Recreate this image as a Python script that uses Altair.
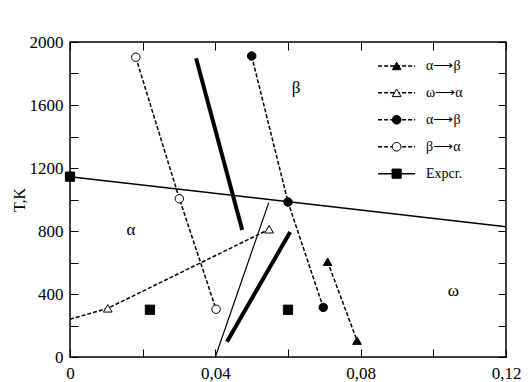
import altair as alt
import pandas as pd

# ---------------- data ----------------
# alpha -> beta (filled triangles)
ab_tri_x = [0.0709, 0.0790]
ab_tri_y = [605, 104]
# omega -> alpha (open triangles); dashed line starts on the T axis
wa_x = [0.0104, 0.0548]
wa_y = [309, 811]
wa_line_x = [0.0, 0.0104, 0.0548]
wa_line_y = [240, 309, 811]
# alpha -> beta (filled circles)
ab_circ_x = [0.050, 0.060, 0.0697]
ab_circ_y = [1911, 984, 315]
# beta -> alpha (open circles)
ba_x = [0.0181, 0.0301, 0.0402]
ba_y = [1903, 1005, 303]
# experiment (squares) and solid line
exp_x = [0.0, 0.022, 0.060]
exp_y = [1145, 300, 300]
exp_line_x = [0.0, 0.12]
exp_line_y = [1145, 827]
# thick solid segments
thick1_x = [0.0347, 0.0474]
thick1_y = [1897, 806]
thick2_x = [0.0432, 0.0606]
thick2_y = [97, 794]
# thin solid segment
thin_x = [0.040, 0.0547]
thin_y = [0, 980]
# phase-region labels
region_labels = ["α", "β", "ω"]
region_x = [0.0168, 0.0622, 0.1055]
region_y = [806, 1706, 419]
# legend labels
legend_labels = ["α⟶β", "ω⟶α", "α⟶β", "β⟶α", "Expcr."]
# axis ticks
x_ticks = [0.0, 0.02, 0.04, 0.06, 0.08, 0.10, 0.12]
y_ticks = list(range(0, 2001, 200))

# ---------------- styling / layout ----------------
FONT = "Liberation Serif"
xs = alt.Scale(domain=[0, 0.12], nice=False, zero=False)
ys = alt.Scale(domain=[0, 2000], nice=False, zero=False)

common_axis = dict(domain=False, grid=False, tickSize=8, offset=-8, tickColor="black",
                   tickWidth=1, labelFont=FONT, labelFontSize=17, labelColor="black",
                   labelFlush=False, labelOverlap=False)

x_bottom = alt.Axis(orient="bottom", values=x_ticks, title=None, labelPadding=8,
                    labelExpr="round(datum.value*100) % 4 == 0 ? replace(format(datum.value, '.2~f'), '.', ',') : ''",
                    **common_axis)
y_left = alt.Axis(orient="left", values=y_ticks, format="d", title="T,K", labelPadding=7,
                  labelExpr="datum.value % 400 == 0 ? datum.label : ''",
                  titleFont=FONT, titleFontSize=16, titleFontWeight="normal", titleColor="black",
                  titlePadding=2, **common_axis)
x_top = alt.Axis(orient="top", values=x_ticks, title=None, labels=False, domain=False, grid=False,
                 tickSize=8, offset=-8, tickColor="black", tickWidth=1)
y_right = alt.Axis(orient="right", values=y_ticks, title=None, labels=False, domain=False, grid=False,
                   tickSize=8, offset=-8, tickColor="black", tickWidth=1)

DASH = [4, 2]
DASH_W = 1.5
LEG_X0, LEG_X1, LEG_XM, LEG_XT = 0.0848, 0.0950, 0.0899, 0.0980
LEG_TOP, LEG_STEP = 1848, 171


def df(x, y):
    return pd.DataFrame({"x": x, "y": y})


def enc(chart, xaxis=None, yaxis=None):
    return chart.encode(
        x=alt.X("x:Q", scale=xs, axis=xaxis),
        y=alt.Y("y:Q", scale=ys, axis=yaxis),
    )


def line(x, y, width, dash=None):
    kw = dict(color="black", strokeWidth=width, clip=False)
    if dash:
        kw["strokeDash"] = dash
    return enc(alt.Chart(df(x, y)).mark_line(**kw))


def markers(x, y, shape, filled, size):
    fill = "black" if filled else "white"
    return enc(alt.Chart(df(x, y)).mark_point(shape=shape, filled=True, fill=fill,
                                               stroke="black", strokeWidth=1, size=size,
                                               opacity=1))


layers = []
# experimental solid line carries the left / bottom axes
layers.append(enc(alt.Chart(df(exp_line_x, exp_line_y)).mark_line(color="black", strokeWidth=1.5),
                  xaxis=x_bottom, yaxis=y_left))
# thick segments carry the top / right tick axes
layers.append(enc(alt.Chart(df(thick1_x, thick1_y)).mark_line(color="black", strokeWidth=4),
                  xaxis=x_top, yaxis=y_right))
layers.append(line(thick2_x, thick2_y, 4))
layers.append(line(thin_x, thin_y, 1.2))

# dashed series
layers.append(line(ab_tri_x, ab_tri_y, DASH_W, DASH))
layers.append(line(wa_line_x, wa_line_y, DASH_W, DASH))
layers.append(line(ab_circ_x, ab_circ_y, DASH_W, DASH))
layers.append(line(ba_x, ba_y, DASH_W, DASH))

# markers
layers.append(markers(ab_tri_x, ab_tri_y, "triangle-up", True, 75))
layers.append(markers(wa_x, wa_y, "triangle-up", False, 75))
layers.append(markers(ab_circ_x, ab_circ_y, "circle", True, 72))
layers.append(markers(ba_x, ba_y, "circle", False, 72))
layers.append(markers(exp_x, exp_y, "square", True, 85))

# region labels
region_df = pd.DataFrame({"x": region_x, "y": region_y, "t": region_labels})
layers.append(alt.Chart(region_df).mark_text(font=FONT, fontSize=17, color="black").encode(
    x=alt.X("x:Q", scale=xs, axis=None), y=alt.Y("y:Q", scale=ys, axis=None), text="t:N"))

# legend (drawn in data space)
leg_styles = [("triangle-up", True, True), ("triangle-up", False, True), ("circle", True, True),
              ("circle", False, True), ("square", True, False)]
for i, (lab, (shape, filled, dashed)) in enumerate(zip(legend_labels, leg_styles)):
    ly = LEG_TOP - i * LEG_STEP
    layers.append(line([LEG_X0, LEG_X1], [ly, ly], DASH_W if dashed else 1.5, DASH if dashed else None))
    layers.append(markers([LEG_XM], [ly], shape, filled, 75 if shape != "square" else 85))
    tdf = pd.DataFrame({"x": [LEG_XT], "y": [ly], "t": [lab]})
    layers.append(alt.Chart(tdf).mark_text(font=FONT, fontSize=14, color="black", align="left",
                                           baseline="middle").encode(
        x=alt.X("x:Q", scale=xs, axis=None), y=alt.Y("y:Q", scale=ys, axis=None), text="t:N"))

chart = alt.layer(*layers).properties(
    width=436, height=315,
    autosize=alt.AutoSizeParams(type="none"),
    padding={"left": 62, "top": 34, "right": 16, "bottom": 24},
    background="white",
).configure_view(stroke="black", strokeWidth=1.5)

chart.save("out.html", embed_options={"renderer": "svg", "actions": False})
